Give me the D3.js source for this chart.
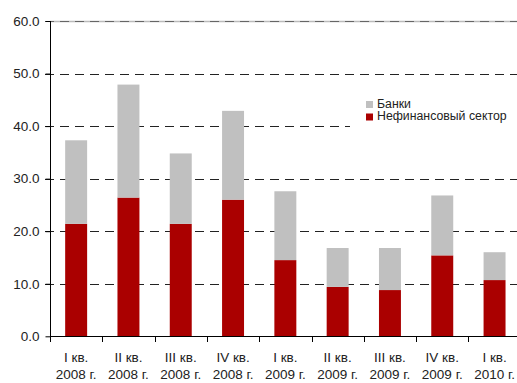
<!DOCTYPE html>
<html>
<head>
<meta charset="utf-8">
<script src="https://cdn.jsdelivr.net/npm/d3@7"></script>
<style>
  html, body { margin: 0; padding: 0; background: #fff; }
  svg { display: block; font-family: "Liberation Sans", Arial, sans-serif; }
</style>
</head>
<body>
<svg id="chart" width="517" height="383"></svg>
<script>
// Quarters (two-line labels)
const quarters = ["I кв.", "II кв.", "III кв.", "IV кв.", "I кв.", "II кв.", "III кв.", "IV кв.", "I кв."];
const years = ["2008 г.", "2008 г.", "2008 г.", "2008 г.", "2009 г.", "2009 г.", "2009 г.", "2009 г.", "2010 г."];
// Series values
const nonFinancial = [21.4, 26.4, 21.4, 26.0, 14.5, 9.4, 8.8, 15.4, 10.7];
const banks = [15.9, 21.5, 13.4, 16.9, 13.1, 7.4, 8.0, 11.4, 5.3];
const seriesNames = ["Банки", "Нефинансовый сектор"];
const yTicks = [0, 10, 20, 30, 40, 50, 60];

const FONT = "'Liberation Sans', Arial, sans-serif";
const svg = d3.select("#chart");
const plotLeft = 50, plotRight = 520.7, plotTop = 21, plotBottom = 336.3;

const x = d3.scaleBand()
  .domain(d3.range(quarters.length))
  .range([plotLeft, plotRight])
  .paddingInner(0.58)
  .paddingOuter(0.29);

const y = d3.scaleLinear().domain([0, 60]).range([plotBottom, plotTop]);

const colors = { nf: "#aa0000", banks: "#c0c0c0" };

// Top border line: light solid under a darker dash
svg.append("line")
  .attr("x1", plotLeft).attr("x2", 517)
  .attr("y1", Math.round(y(60)) + 0.5).attr("y2", Math.round(y(60)) + 0.5)
  .attr("stroke", "#bbb").attr("stroke-width", 1.5);

// Gridlines
const grid = svg.append("g");
grid.selectAll("line.grid")
  .data(yTicks.filter(d => d > 0))
  .join("line")
  .attr("class", "grid")
  .attr("x1", plotLeft - 5)
  .attr("x2", 517)
  .attr("y1", d => Math.round(y(d)) + 0.5)
  .attr("y2", d => Math.round(y(d)) + 0.5)
  .attr("stroke", d => d === 60 ? "#666" : "#222")
  .attr("stroke-width", 1)
  .attr("stroke-dasharray", "9,6");

// Stacked data
const rows = nonFinancial.map((v, i) => ({ i, nf: v, banks: banks[i] }));
const stack = d3.stack().keys(["nf", "banks"]);
const layers = stack(rows);

svg.append("g")
  .selectAll("g")
  .data(layers)
  .join("g")
  .attr("fill", d => colors[d.key])
  .selectAll("rect")
  .data(d => d)
  .join("rect")
  .attr("x", d => x(d.data.i))
  .attr("width", x.bandwidth())
  .attr("y", d => y(d[1]))
  .attr("height", d => y(d[0]) - y(d[1]));

// Y axis
const yAxis = d3.axisLeft(y)
  .tickValues(yTicks)
  .tickFormat(d3.format(".1f"))
  .tickSize(5)
  .tickPadding(6);
const gy = svg.append("g")
  .attr("transform", `translate(${plotLeft + 0.5},0)`)
  .call(yAxis);
gy.select(".domain").attr("stroke", "#000").attr("d", `M0,${plotTop}V${plotBottom}`);
gy.selectAll(".tick line").attr("stroke", "#000");
gy.selectAll(".tick text")
  .attr("font-size", 13.5)
  .attr("fill", "#222")
  .attr("font-family", FONT);

// X axis baseline and boundary ticks
const gx = svg.append("g");
gx.append("line")
  .attr("x1", plotLeft).attr("x2", 517)
  .attr("y1", Math.round(y(0)) + 0.5).attr("y2", Math.round(y(0)) + 0.5)
  .attr("stroke", "#000");
const boundaries = d3.range(quarters.length + 1).map(i => plotLeft + i * x.step());
gx.selectAll("line.xt")
  .data(boundaries.filter(b => b <= 517))
  .join("line")
  .attr("class", "xt")
  .attr("x1", d => Math.round(d) + 0.5)
  .attr("x2", d => Math.round(d) + 0.5)
  .attr("y1", Math.round(y(0)))
  .attr("y2", Math.round(y(0)) + 6)
  .attr("stroke", "#000");

const labels = gx.selectAll("text.xl")
  .data(d3.range(quarters.length))
  .join("text")
  .attr("class", "xl")
  .attr("text-anchor", "middle")
  .attr("font-family", FONT)
  .attr("font-size", 13.5)
  .attr("fill", "#222");
labels.append("tspan")
  .attr("x", i => x(i) + x.bandwidth() / 2)
  .attr("y", 362)
  .text(i => quarters[i]);
labels.append("tspan")
  .attr("x", i => x(i) + x.bandwidth() / 2)
  .attr("y", 379)
  .text(i => years[i]);

// Legend
const legend = svg.append("g");
legend.append("rect")
  .attr("x", 350).attr("y", 95)
  .attr("width", 167).attr("height", 34)
  .attr("fill", "#fff");
const legendItems = [
  { name: seriesNames[0], color: colors.banks, y: 101 },
  { name: seriesNames[1], color: colors.nf, y: 113.5 }
];
const li = legend.selectAll("g.item")
  .data(legendItems)
  .join("g")
  .attr("class", "item");
li.append("rect")
  .attr("x", 366).attr("y", d => d.y)
  .attr("width", 7).attr("height", 7)
  .attr("fill", d => d.color);
li.append("text")
  .attr("x", 377).attr("y", d => d.y + 6.5)
  .attr("font-family", FONT)
  .attr("font-size", 12.3)
  .attr("fill", "#222")
  .text(d => d.name);
</script>
</body>
</html>
